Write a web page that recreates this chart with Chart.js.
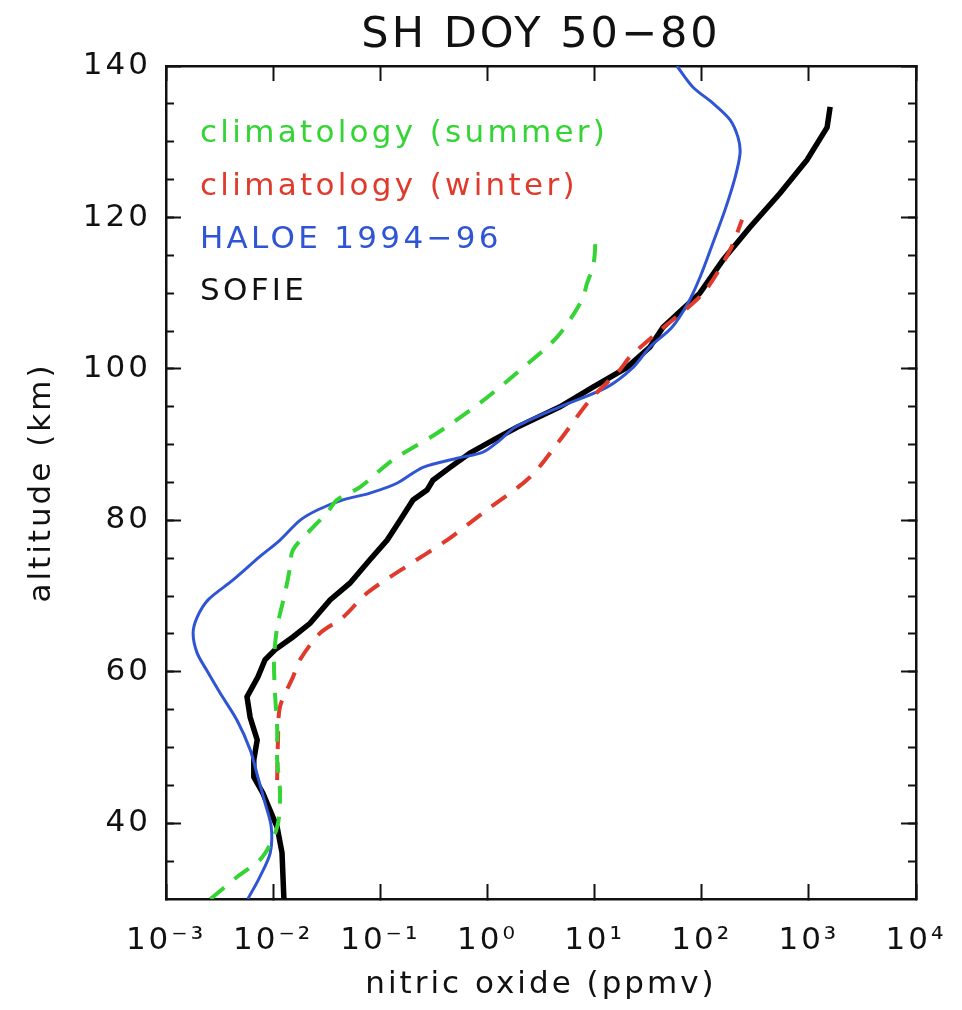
<!DOCTYPE html>
<html lang="en">
<head>
    <meta charset="UTF-8">
    <title>SH DOY 50-80</title>
    <script src="https://cdn.jsdelivr.net/npm/chart.js@4.4.1/dist/chart.umd.min.js"></script>
    <style>
        body { margin: 0; background: #fff; }
        #wrap { width: 962px; height: 1010px; }
    </style>
</head>
<body>
<div id="wrap"><canvas id="noChart" width="962" height="1010"></canvas></div>

<script>
    // altitude (km) / nitric oxide (ppmv)
    const summerAlt = [30, 32.9, 35.5, 39.5, 44.0, 48.4, 52.7, 57.2, 61.6, 65.9, 70.4, 73.8, 76.1, 79.1, 81.0, 82.7, 84.4, 88.0, 91.5, 95.5, 99.5, 104.2, 109.1, 111.3, 113.5, 115.7, 117.9];
    const summerNO = [0.0026, 0.0046, 0.0079, 0.0109, 0.0116, 0.0109, 0.0109, 0.0104, 0.0102, 0.0109, 0.0129, 0.0144, 0.0153, 0.0236, 0.0318, 0.0395, 0.0647, 0.1315, 0.338, 0.853, 1.89, 4.46, 7.63, 8.5, 9.66, 10.1, 10.1];

    const winterAlt = [45.7, 51.0, 55.4, 59.3, 61.6, 65.1, 67.2, 70.4, 73.8, 77.4, 81.0, 85.7, 90.6, 95.9, 99.9, 101.6, 105.1, 110.0, 115.7, 119.7];
    const winterNO = [0.0109, 0.0111, 0.0116, 0.0153, 0.0178, 0.0274, 0.0449, 0.0752, 0.170, 0.42, 0.91, 2.49, 4.75, 9.06, 17.3, 21.4, 40.8, 103, 184, 238];

    const haloeAlt = [30, 32.9, 36.1, 39.5, 42.7, 46.1, 49.7, 53.6, 57.2, 60.2, 62.5, 65.1, 67.2, 69.5, 72.1, 75.2, 77.4, 80.0, 81.4, 82.7, 83.6, 84.9, 87.0, 88.2, 89.0, 90.6, 92.3, 95.0, 97.6, 100.2, 102.9, 105.5, 108.7, 112.1, 116.6, 121.0, 125.3, 128.5, 130.6, 132.9, 135.1, 137.2, 140];
    const haloeNO = [0.0058, 0.0075, 0.0094, 0.0096, 0.0084, 0.0072, 0.0061, 0.0046, 0.0032, 0.0024, 0.00195, 0.00179, 0.00195, 0.00247, 0.0042, 0.0075, 0.0116, 0.0178, 0.0262, 0.0449, 0.080, 0.143, 0.25, 0.52, 0.91, 1.31, 1.81, 4.75, 13.1, 22.9, 32.9, 52.8, 74.5, 96.4, 127, 165, 205, 228, 218, 184, 127, 83, 58.7];

    const sofieAlt = [30, 36.1, 39.5, 44.0, 46.1, 48.4, 51.0, 54.0, 56.7, 59.3, 61.6, 62.9, 64.6, 66.4, 69.5, 71.7, 74.8, 77.4, 80.0, 82.7, 84.0, 85.3, 87.0, 88.9, 90.6, 92.3, 95.0, 97.6, 100.2, 102.9, 105.5, 110.0, 114.4, 118.7, 123.2, 127.6, 131.9, 134.6];
    const sofieNO = [0.0126, 0.0121, 0.0109, 0.0080, 0.0066, 0.0066, 0.0071, 0.0061, 0.0057, 0.0072, 0.0084, 0.0104, 0.0153, 0.0221, 0.034, 0.052, 0.080, 0.116, 0.153, 0.202, 0.273, 0.31, 0.448, 0.688, 1.13, 1.89, 4.76, 9.66, 20.1, 32.9, 43.5, 96, 158, 282, 538, 961, 1480, 1580];

    const xDecades = [-3, -2, -1, 0, 1, 2, 3, 4];
    const yMajor = [40, 60, 80, 100, 120, 140];
    const yMinor = [35, 40, 45, 50, 55, 60, 65, 70, 75, 80, 85, 90, 95, 100, 105, 110, 115, 120, 125, 130, 135];

    const FONT = '"DejaVu Sans", sans-serif';
    const AXIS = '#111';
    const sup = {'-': '\u207B', '0': '\u2070', '1': '\u00B9', '2': '\u00B2', '3': '\u00B3', '4': '\u2074'};
    const toSup = (n) => String(n).split('').map(c => sup[c]).join('');

    const pts = (no, alt) => no.map((v, i) => ({x: v, y: alt[i]}));

    // the original lettering is wide and loosely spaced
    const spacing = {
        id: 'spacing',
        beforeUpdate(chart) { chart.ctx.letterSpacing = '3px'; },
        beforeDraw(chart) { chart.ctx.letterSpacing = '3px'; }
    };

    // text-only legend inside the plot, like the original
    const legendText = {
        id: 'legendText',
        afterDatasetsDraw(chart) {
            const {ctx, chartArea} = chart;
            const rows = [
                ['climatology (summer)', '#35d435', 142],
                ['climatology (winter)', '#e03a2c', 195],
                ['HALOE 1994\u221296', '#2f55d4', 248],
                ['SOFIE', '#111', 300],
            ];
            ctx.save();
            ctx.font = `31px ${FONT}`;
            ctx.letterSpacing = '3.3px';
            ctx.textBaseline = 'alphabetic';
            ctx.textAlign = 'left';
            rows.forEach(([txt, col, y]) => {
                ctx.fillStyle = col;
                ctx.fillText(txt, chartArea.left + 34, y);
            });
            ctx.restore();
        }
    };

    const tickAxis = (position, ticks, len, extra) => Object.assign({
        position,
        display: true,
        ticks: {display: false},
        grid: {drawOnChartArea: false, tickLength: len, color: AXIS, tickWidth: 2},
        border: {display: false},
        afterBuildTicks: (axis) => { axis.ticks = ticks.map(v => ({value: v})); },
    }, extra);

    new Chart(document.getElementById('noChart'), {
        type: 'scatter',
        data: {
            datasets: [
                {label: 'climatology (summer)', data: pts(summerNO, summerAlt), showLine: true, borderColor: '#35d435', borderWidth: 4, borderDash: [18, 13], tension: 0.3, pointRadius: 0},
                {label: 'climatology (winter)', data: pts(winterNO, winterAlt), showLine: true, borderColor: '#e03a2c', borderWidth: 4, borderDash: [18, 13], tension: 0.3, pointRadius: 0},
                {label: 'HALOE 1994-96', data: pts(haloeNO, haloeAlt), showLine: true, borderColor: '#2f55d4', borderWidth: 3, tension: 0.3, pointRadius: 0},
                {label: 'SOFIE', data: pts(sofieNO, sofieAlt), showLine: true, borderColor: '#000', borderWidth: 5.5, tension: 0, pointRadius: 0},
            ]
        },
        options: {
            responsive: false,
            animation: false,
            layout: {padding: {left: 0, right: 46, top: 0, bottom: 0}},
            plugins: {
                legend: {display: false},
                tooltip: {enabled: false},
                title: {
                    display: true,
                    text: 'SH DOY 50\u221280',
                    fullSize: false,
                    color: '#111',
                    font: {family: FONT, size: 43, weight: 'normal'},
                    padding: {top: 10, bottom: 4.4}
                }
            },
            scales: {
                x: {
                    type: 'logarithmic',
                    position: 'bottom',
                    min: 1e-3,
                    max: 1e4,
                    afterBuildTicks: (axis) => { axis.ticks = xDecades.map(e => ({value: Math.pow(10, e)})); },
                    afterFit: (scale) => { scale.height = 111; scale.paddingLeft = 0; scale.paddingRight = 0; },
                    ticks: {
                        color: '#111',
                        font: {family: FONT, size: 31},
                        padding: 38,
                        maxRotation: 0,
                        autoSkip: false,
                        callback: (v) => '10' + toSup(Math.round(Math.log10(v)))
                    },
                    grid: {drawOnChartArea: false, tickLength: -15, color: AXIS, tickWidth: 2},
                    border: {color: AXIS, width: 2.5},
                    title: {display: true, text: 'nitric oxide (ppmv)', color: '#111', font: {family: FONT, size: 31}, padding: 6}
                },
                xTop: tickAxis('top', xDecades.map(e => Math.pow(10, e)), -15, {
                    type: 'logarithmic', min: 1e-3, max: 1e4,
                    border: {color: AXIS, width: 2.5},
                    afterFit: (scale) => { scale.height = 0; scale.paddingLeft = 0; scale.paddingRight = 0; }
                }),
                y: {
                    type: 'linear',
                    position: 'left',
                    min: 30,
                    max: 140,
                    afterBuildTicks: (axis) => { axis.ticks = yMajor.map(v => ({value: v})); },
                    afterFit: (scale) => { scale.width = 166; },
                    ticks: {color: '#111', font: {family: FONT, size: 31}, padding: 30},
                    grid: {drawOnChartArea: false, tickLength: -15, color: AXIS, tickWidth: 2},
                    border: {color: AXIS, width: 2.5},
                    title: {display: true, text: 'altitude (km)', color: '#111', font: {family: FONT, size: 31}, padding: 23}
                },
                yMinorL: tickAxis('left', yMinor, -8, {
                    type: 'linear', min: 30, max: 140, weight: -1,
                    afterFit: (scale) => { scale.width = 0; }
                }),
                yRight: tickAxis('right', yMajor, -15, {
                    type: 'linear', min: 30, max: 140,
                    border: {color: AXIS, width: 2.5},
                    afterFit: (scale) => { scale.width = 0; }
                }),
                yMinorR: tickAxis('right', yMinor, -8, {
                    type: 'linear', min: 30, max: 140, weight: -1,
                    afterFit: (scale) => { scale.width = 0; }
                })
            }
        },
        plugins: [spacing, legendText]
    });
</script>
</body>
</html>
